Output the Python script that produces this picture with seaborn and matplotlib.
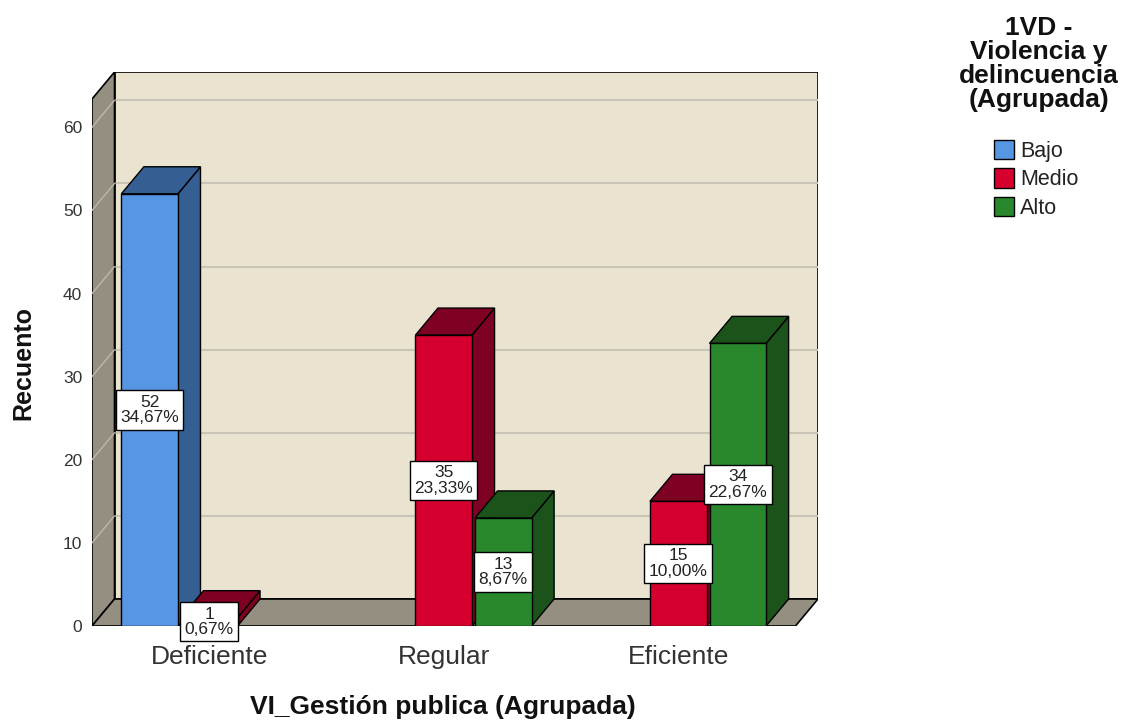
import pandas as pd
import matplotlib.pyplot as plt
from matplotlib.patches import Polygon, Patch
import seaborn as sns

categorias = ["Deficiente", "Regular", "Eficiente"]
niveles = ["Bajo", "Medio", "Alto"]
bajo = [52, 0, 0]
medio = [1, 35, 15]
alto = [0, 13, 34]

colores = ["#5796E3", "#D6002F", "#2A882C"]
oscuros = ["#355E92", "#7E0022", "#1B531B"]

df = pd.DataFrame({
    "gestion": categorias * 3,
    "nivel": [n for n in niveles for _ in categorias],
    "recuento": bajo + medio + alto,
})
total = df["recuento"].sum()

sns.set_style("white")
plt.rcParams['font.family'] = ['Liberation Sans', 'DejaVu Sans']

fig = plt.figure(figsize=(11.25, 7.2), dpi=100)
ax = fig.add_axes([92/1125, 94/720, 726/1125, 554/720])

DX = 0.096      # profundidad 3D en unidades de x
DY = 3.25       # profundidad 3D en unidades de y
YTOP = 63.4
x0, x1 = -0.5, 2.5

# paredes del cubo
pared = "#EAE3CF"
gris = "#948F80"
ax.add_patch(Polygon([(x0+DX, DY), (x1+DX, DY), (x1+DX, YTOP+DY), (x0+DX, YTOP+DY)],
                     closed=True, fc=pared, ec="black", lw=1.2, zorder=0))
ax.add_patch(Polygon([(x0, 0), (x0+DX, DY), (x0+DX, YTOP+DY), (x0, YTOP)],
                     closed=True, fc=gris, ec="black", lw=1.2, zorder=0.5))
ax.add_patch(Polygon([(x0, 0), (x1, 0), (x1+DX, DY), (x0+DX, DY)],
                     closed=True, fc=gris, ec="black", lw=1.2, zorder=0.6))
for v in range(10, 61, 10):
    ax.plot([x0+DX, x1+DX], [v+DY, v+DY], color="#C9C4B6", lw=1.5, zorder=0.2)
    ax.plot([x0, x0+DX], [v, v+DY], color="#BDB8AA", lw=1, zorder=0.55)

sns.barplot(data=df, x="gestion", y="recuento", hue="nivel", order=categorias,
            hue_order=niveles, palette=colores, saturation=1, width=0.762, gap=0.05,
            edgecolor="black", linewidth=1, legend=False, ax=ax)

barras = []
for nivel, cont in zip(niveles, ax.containers):
    k = niveles.index(nivel)
    for b in cont:
        if b.get_height() <= 0:
            b.set_visible(False)
            continue
        barras.append((b, k))

barras.sort(key=lambda t: t[0].get_x())
for i, (b, k) in enumerate(barras):
    bx0 = b.get_x()
    bx1 = bx0 + b.get_width()
    h = b.get_height()
    z = 3 + 2*i
    ax.add_patch(Polygon([(bx1, 0), (bx1+DX, DY), (bx1+DX, h+DY), (bx1, h)],
                         closed=True, fc=oscuros[k], ec="black", lw=1, zorder=z))
    ax.add_patch(Polygon([(bx0, h), (bx1, h), (bx1+DX, h+DY), (bx0+DX, h+DY)],
                         closed=True, fc=oscuros[k], ec="black", lw=1, zorder=z))
    b.set_zorder(z + 1)
    pct = f"{h/total*100:.2f}".replace(".", ",")
    ax.text(bx0 + b.get_width()/2, h/2, f"{int(h)}\n{pct}%", ha="center", va="center",
            fontsize=12.5, linespacing=1.05, color="#222222", zorder=60,
            bbox=dict(boxstyle="square,pad=0.25", fc="white", ec="black", lw=1))

ax.set_xlim(x0, x1 + DX)
ax.set_ylim(0, YTOP + DY)
ax.set_yticks(range(0, 61, 10))
ax.set_xticks(range(3))
ax.set_xticklabels(categorias)
ax.tick_params(axis="y", length=0, pad=7, labelsize=12.5, labelcolor="#333333")
ax.tick_params(axis="x", length=0, pad=14, labelsize=19, labelcolor="#333333")
ax.set_xlabel("")
ax.set_ylabel("")
for s in ax.spines.values():
    s.set_visible(False)
ax.patch.set_alpha(0)

fig.text(443/1125, 1 - 707/720, "VI_Gestión publica (Agrupada)", ha="center", va="center",
         fontsize=19, fontweight="bold", color="#111111")
fig.text(23/1125, 1 - 363/720, "Recuento", ha="center", va="center", rotation=90,
         fontsize=18, fontweight="bold", color="#111111")

fig.text(1039/1125, 1 - 64/720, "1VD -\nViolencia y\ndelincuencia\n(Agrupada)",
         ha="center", va="center", fontsize=19, fontweight="bold", linespacing=1.0,
         color="#111111")
handles = [Patch(fc=c, ec="black", lw=1) for c in colores]
fig.legend(handles, niveles, loc="upper left", bbox_to_anchor=(994/1125, 1 - 140/720),
           frameon=False, fontsize=15.5, handlelength=0.95, handleheight=1.0,
           handletextpad=0.25, labelspacing=0.3, borderaxespad=0, borderpad=0,
           labelcolor="#222222")

fig.savefig("out.png", dpi=100)
